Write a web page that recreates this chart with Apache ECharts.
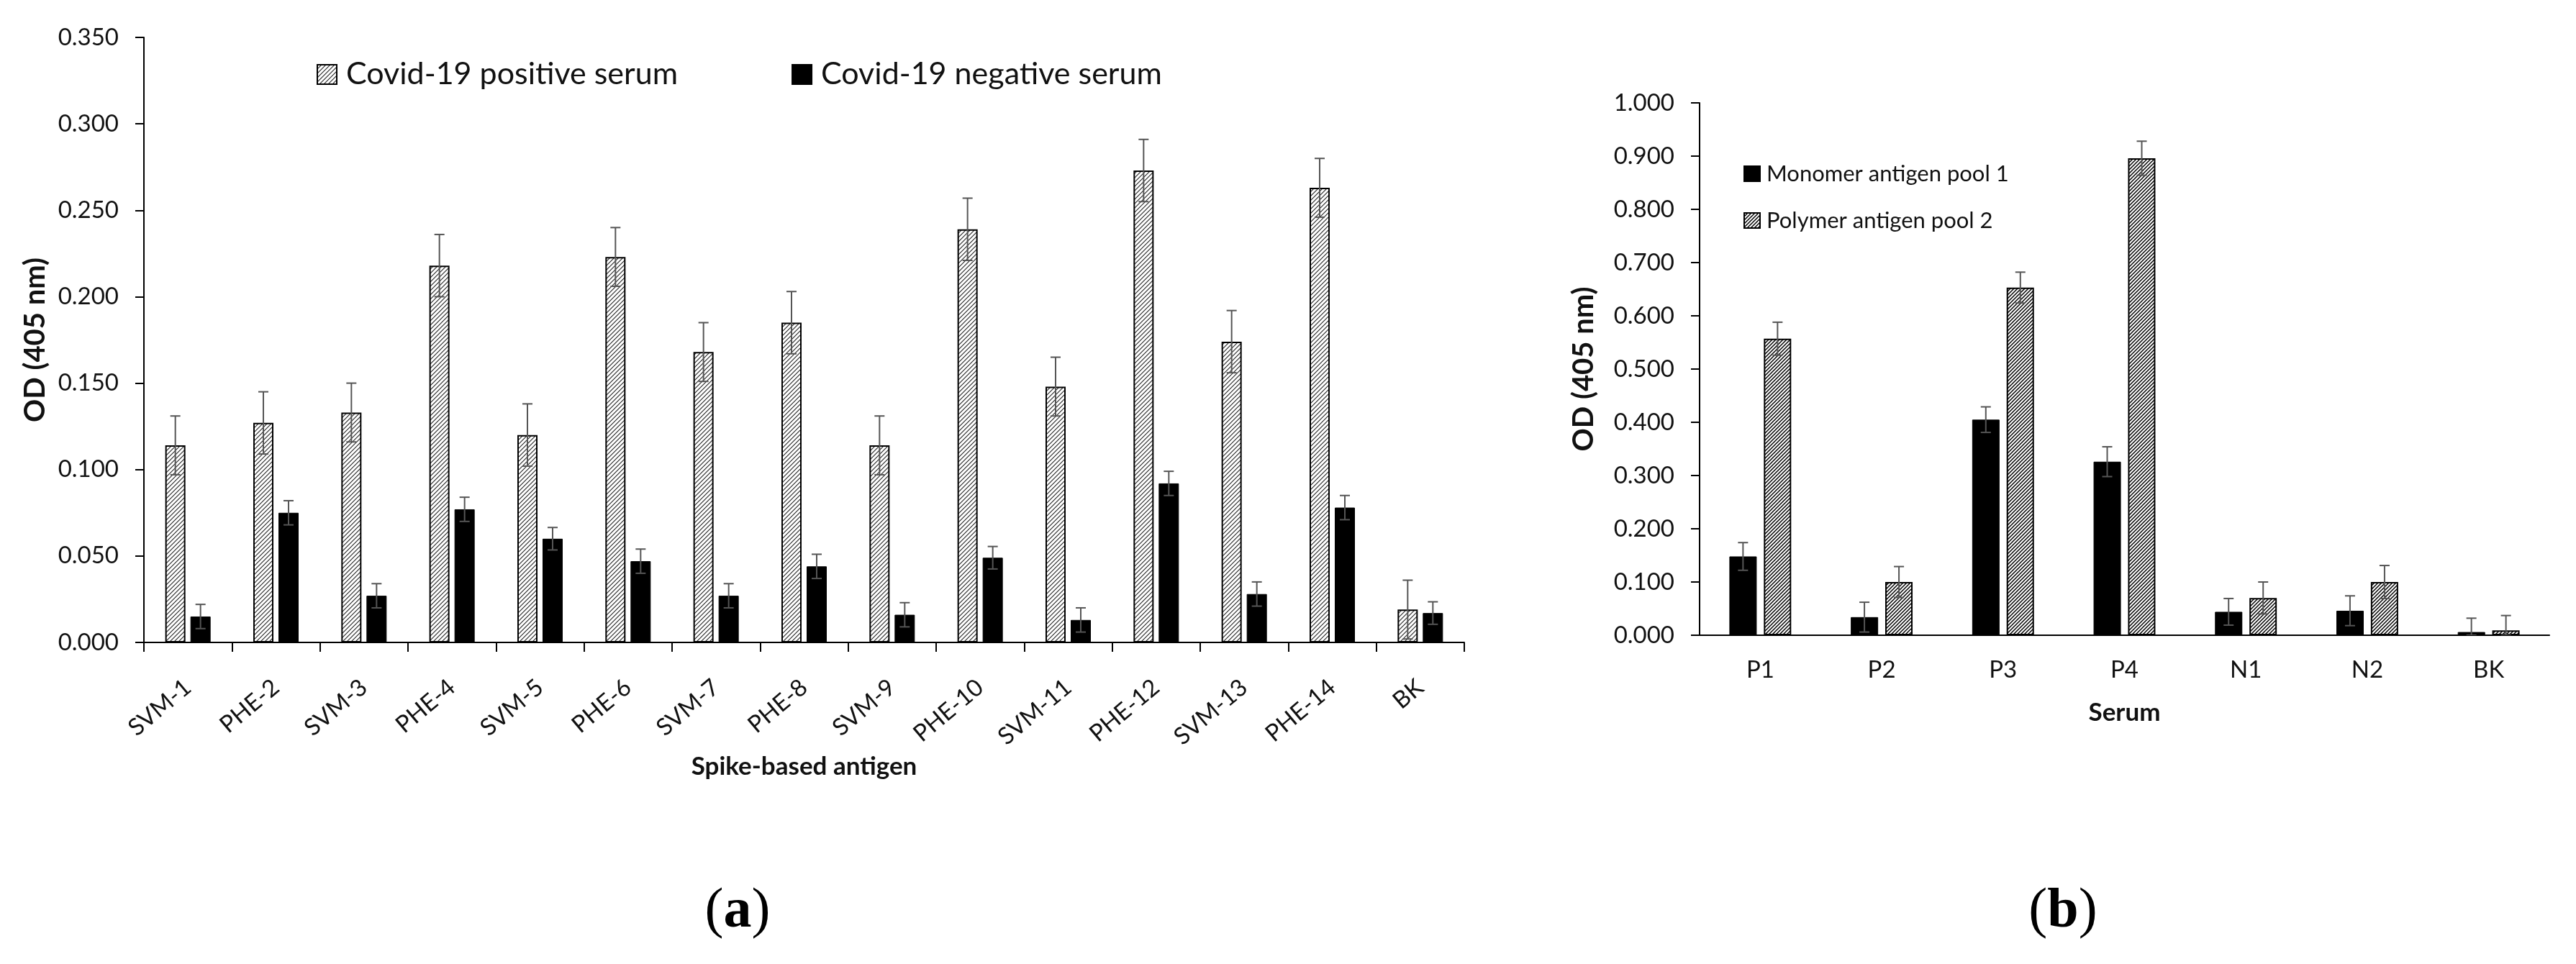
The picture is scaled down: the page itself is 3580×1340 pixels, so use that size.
<!DOCTYPE html>
<html>
<head>
<meta charset="utf-8">
<script src="https://cdn.jsdelivr.net/npm/echarts@6/dist/echarts.min.js"></script>
<style>
  html, body { margin: 0; padding: 0; background: #fff; }
  #chart { width: 3580px; height: 1340px; }
</style>
</head>
<body>
<div id="chart"></div>
<script>
// ---------- data (a) ----------
const leftCategories = ['SVM-1','PHE-2','SVM-3','PHE-4','SVM-5','PHE-6','SVM-7','PHE-8','SVM-9','PHE-10','SVM-11','PHE-12','SVM-13','PHE-14','BK'];
const positiveValues = [0.114,0.127,0.133,0.218,0.120,0.223,0.168,0.185,0.114,0.239,0.148,0.273,0.174,0.263,0.019];
const positiveErrors = [0.017,0.018,0.017,0.018,0.018,0.017,0.017,0.018,0.017,0.018,0.017,0.018,0.018,0.017,0.017];
const negativeValues = [0.015,0.075,0.027,0.077,0.060,0.047,0.027,0.044,0.016,0.049,0.013,0.092,0.028,0.078,0.017];
const negativeErrors = [0.007,0.007,0.007,0.007,0.0065,0.007,0.007,0.007,0.007,0.0065,0.007,0.007,0.007,0.007,0.0065];
const leftYTicks = [0,0.05,0.10,0.15,0.20,0.25,0.30,0.35];

// ---------- data (b) ----------
const rightCategories = ['P1','P2','P3','P4','N1','N2','BK'];
const monomerValues = [0.148,0.034,0.405,0.326,0.044,0.046,0.006];
const monomerErrors = [0.026,0.028,0.024,0.028,0.025,0.028,0.026];
const polymerValues = [0.557,0.100,0.653,0.896,0.070,0.100,0.009];
const polymerErrors = [0.031,0.029,0.029,0.032,0.030,0.031,0.028];
const rightYTicks = [0,0.1,0.2,0.3,0.4,0.5,0.6,0.7,0.8,0.9,1.0];

// ---------- hatch pattern ----------
function makeHatch(size, width, color) {
  const c = document.createElement('canvas');
  c.width = size; c.height = size;
  const ctx = c.getContext('2d');
  ctx.fillStyle = '#fff';
  ctx.fillRect(0, 0, size, size);
  ctx.strokeStyle = color;
  ctx.lineWidth = width;
  ctx.beginPath();
  ctx.moveTo(-1, size + 1); ctx.lineTo(size + 1, -1);
  ctx.moveTo(-1, 1); ctx.lineTo(1, -1);
  ctx.moveTo(size - 1, size + 1); ctx.lineTo(size + 1, size - 1);
  ctx.stroke();
  return c;
}
const hatchLeft = { image: makeHatch(6, 1.1, '#222'), repeat: 'repeat' };
const hatchRight = { image: makeHatch(5, 1.5, '#000'), repeat: 'repeat' };

const FONT = 'Lato';
const TXT = '#111';

function errorSeries(name, values, errors, xi, yi, offset, capHalf) {
  return {
    type: 'custom',
    name: name,
    xAxisIndex: xi, yAxisIndex: yi,
    silent: true, z: 5,
    clip: true,
    data: values.map((v, i) => [i, v, errors[i]]),
    encode: { x: 0, y: 1 },
    renderItem: function (params, api) {
      const idx = api.value(0), v = api.value(1), e = api.value(2);
      const top = api.coord([idx, v + e]);
      const bot = api.coord([idx, Math.max(0, v - e)]);
      const cx = top[0] + offset;
      const st = { stroke: '#555', lineWidth: 2 };
      return {
        type: 'group',
        children: [
          { type: 'line', shape: { x1: cx, y1: top[1], x2: cx, y2: bot[1] }, style: st },
          { type: 'line', shape: { x1: cx - capHalf, y1: top[1], x2: cx + capHalf, y2: top[1] }, style: st },
          { type: 'line', shape: { x1: cx - capHalf, y1: bot[1], x2: cx + capHalf, y2: bot[1] }, style: st }
        ]
      };
    }
  };
}

const chart = echarts.init(document.getElementById('chart'), null, { renderer: 'canvas' });

const option = {
  animation: false,
  backgroundColor: '#fff',
  textStyle: { fontFamily: FONT, color: TXT },
  grid: [
    { left: 200, top: 52, width: 1835, height: 841, outerBoundsMode: 'none', containLabel: false },
    { left: 2362, top: 143, width: 1181, height: 740, outerBoundsMode: 'none', containLabel: false }
  ],
  legend: [
    {
      data: ['Covid-19 positive serum', 'Covid-19 negative serum'],
      left: 440, top: 82, padding: 0,
      icon: 'rect', itemWidth: 27, itemHeight: 27, itemGap: 158,
      selectedMode: false,
      textStyle: { fontFamily: FONT, fontSize: 43, color: TXT, padding: [0, 0, 0, 8] }
    },
    {
      data: ['Monomer antigen pool 1', 'Polymer antigen pool 2'],
      orient: 'vertical',
      left: 2423, top: 226, padding: 0,
      icon: 'rect', itemWidth: 22, itemHeight: 21, itemGap: 34,
      selectedMode: false,
      textStyle: { fontFamily: FONT, fontSize: 31, color: TXT, padding: [0, 0, 0, 4] }
    }
  ],
  xAxis: [
    {
      type: 'category', gridIndex: 0, data: leftCategories,
      name: 'Spike-based antigen', nameLocation: 'middle', nameGap: 151,
      nameTextStyle: { fontFamily: FONT, fontWeight: 'bold', fontSize: 35, color: TXT },
      axisLine: { show: true, lineStyle: { color: '#000', width: 2 } },
      axisTick: { show: true, length: 13, interval: 0, lineStyle: { color: '#000', width: 2 } },
      axisLabel: { interval: 0, rotate: 40, margin: 58, fontFamily: FONT, fontSize: 33, color: TXT },
      splitLine: { show: false }
    },
    {
      type: 'category', gridIndex: 1, data: rightCategories,
      name: 'Serum', nameLocation: 'middle', nameGap: 90,
      nameTextStyle: { fontFamily: FONT, fontWeight: 'bold', fontSize: 35, color: TXT },
      axisLine: { show: true, lineStyle: { color: '#000', width: 2 } },
      axisTick: { show: false },
      axisLabel: { interval: 0, margin: 32, fontFamily: FONT, fontSize: 33, color: TXT },
      splitLine: { show: false }
    }
  ],
  yAxis: [
    {
      type: 'value', gridIndex: 0, min: leftYTicks[0], max: leftYTicks[leftYTicks.length - 1], interval: 0.05,
      name: 'OD (405 nm)', nameLocation: 'middle', nameGap: 131,
      nameTextStyle: { fontFamily: FONT, fontWeight: 'bold', fontSize: 40, color: TXT },
      axisLine: { show: true, lineStyle: { color: '#000', width: 2 } },
      axisTick: { show: true, length: 12, lineStyle: { color: '#000', width: 2 } },
      axisLabel: { margin: 35, fontFamily: FONT, fontSize: 33, color: TXT, formatter: v => v.toFixed(3) },
      splitLine: { show: false }
    },
    {
      type: 'value', gridIndex: 1, min: rightYTicks[0], max: rightYTicks[rightYTicks.length - 1], interval: 0.1,
      name: 'OD (405 nm)', nameLocation: 'middle', nameGap: 141,
      nameTextStyle: { fontFamily: FONT, fontWeight: 'bold', fontSize: 40, color: TXT },
      axisLine: { show: true, lineStyle: { color: '#000', width: 2 } },
      axisTick: { show: true, length: 12, lineStyle: { color: '#000', width: 2 } },
      axisLabel: { margin: 35, fontFamily: FONT, fontSize: 33, color: TXT, formatter: v => v.toFixed(3) },
      splitLine: { show: false }
    }
  ],
  series: [
    {
      type: 'bar', name: 'Covid-19 positive serum', xAxisIndex: 0, yAxisIndex: 0,
      data: positiveValues, barWidth: 28, barGap: '25%',
      itemStyle: { color: hatchLeft, borderColor: '#000', borderWidth: 2 }
    },
    {
      type: 'bar', name: 'Covid-19 negative serum', xAxisIndex: 0, yAxisIndex: 0,
      data: negativeValues, barWidth: 28, barGap: '25%',
      itemStyle: { color: '#000', borderColor: '#000', borderWidth: 1 }
    },
    {
      type: 'bar', name: 'Monomer antigen pool 1', xAxisIndex: 1, yAxisIndex: 1,
      data: monomerValues, barWidth: 38, barGap: '26%',
      itemStyle: { color: '#000', borderColor: '#000', borderWidth: 1 }
    },
    {
      type: 'bar', name: 'Polymer antigen pool 2', xAxisIndex: 1, yAxisIndex: 1,
      data: polymerValues, barWidth: 38, barGap: '26%',
      itemStyle: { color: hatchRight, borderColor: '#000', borderWidth: 2 }
    },
    errorSeries('err-pos', positiveValues, positiveErrors, 0, 0, -17.5, 7),
    errorSeries('err-neg', negativeValues, negativeErrors, 0, 0, 17.5, 7),
    errorSeries('err-mono', monomerValues, monomerErrors, 1, 1, -24, 7),
    errorSeries('err-poly', polymerValues, polymerErrors, 1, 1, 24, 7)
  ],
  graphic: [
    {
      type: 'text', x: 1025, y: 1268,
      style: {
        text: '{p|(}{b|a}{p|)}', align: 'center', verticalAlign: 'middle',
        rich: {
          p: { fontFamily: 'Liberation Serif', fontSize: 78, fill: '#000' },
          b: { fontFamily: 'Liberation Serif', fontSize: 78, fontWeight: 'bold', fill: '#000' }
        }
      }
    },
    {
      type: 'text', x: 2867, y: 1268,
      style: {
        text: '{p|(}{b|b}{p|)}', align: 'center', verticalAlign: 'middle',
        rich: {
          p: { fontFamily: 'Liberation Serif', fontSize: 78, fill: '#000' },
          b: { fontFamily: 'Liberation Serif', fontSize: 78, fontWeight: 'bold', fill: '#000' }
        }
      }
    }
  ]
};

chart.setOption(option);
</script>
</body>
</html>
